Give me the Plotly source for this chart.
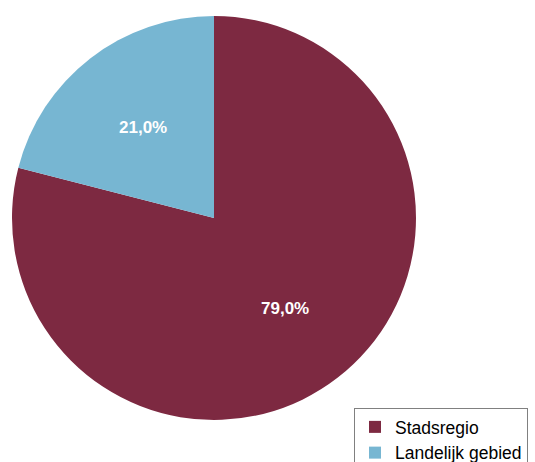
import math
import plotly.graph_objects as go

# Share of population by area type
categories = ["Stadsregio", "Landelijk gebied"]
values = [79.0, 21.0]
colors = ["#7D2941", "#77B6D2"]

W, H = 535, 462
pie_x = [12 / W, 416 / W]
pie_y = [1 - 420 / H, 1 - 16 / H]

total = sum(values)
labels_text = [f"{v / total * 100:.1f}%".replace(".", ",") for v in values]

fig = go.Figure(
    go.Pie(
        labels=categories,
        values=values,
        textinfo="none",
        marker=dict(colors=colors, line=dict(width=0)),
        sort=False,
        direction="clockwise",
        rotation=0,
        hoverinfo="label+percent",
        domain=dict(x=pie_x, y=pie_y),
    )
)

# Percentage labels placed at each slice's mid-angle, part way out from the centre
cx = (pie_x[0] + pie_x[1]) / 2
cy = (pie_y[0] + pie_y[1]) / 2
rx = (pie_x[1] - pie_x[0]) / 2
ry = (pie_y[1] - pie_y[0]) / 2
label_r = 0.57
start = 0.0
for v, txt in zip(values, labels_text):
    mid = (start + v / 2) / total * 2 * math.pi
    start += v
    fig.add_annotation(
        x=cx + label_r * rx * math.sin(mid),
        y=cy + label_r * ry * math.cos(mid),
        xref="paper",
        yref="paper",
        text=txt,
        showarrow=False,
        font=dict(family="Arial, Liberation Sans, sans-serif", size=17, color="white", weight="bold"),
        xanchor="center",
        yanchor="middle",
    )

fig.update_layout(
    width=W,
    height=H,
    margin=dict(l=0, r=0, t=0, b=0, autoexpand=False),
    paper_bgcolor="white",
    plot_bgcolor="white",
    font=dict(family="Arial, Liberation Sans, sans-serif", size=18, color="#000000"),
    legend=dict(
        x=354 / W,
        y=1 - 408 / H,
        xanchor="left",
        yanchor="top",
        bordercolor="#808080",
        borderwidth=1,
        bgcolor="white",
        font=dict(size=17.5),
        tracegroupgap=0,
    ),
)

fig.write_html("out.html")
